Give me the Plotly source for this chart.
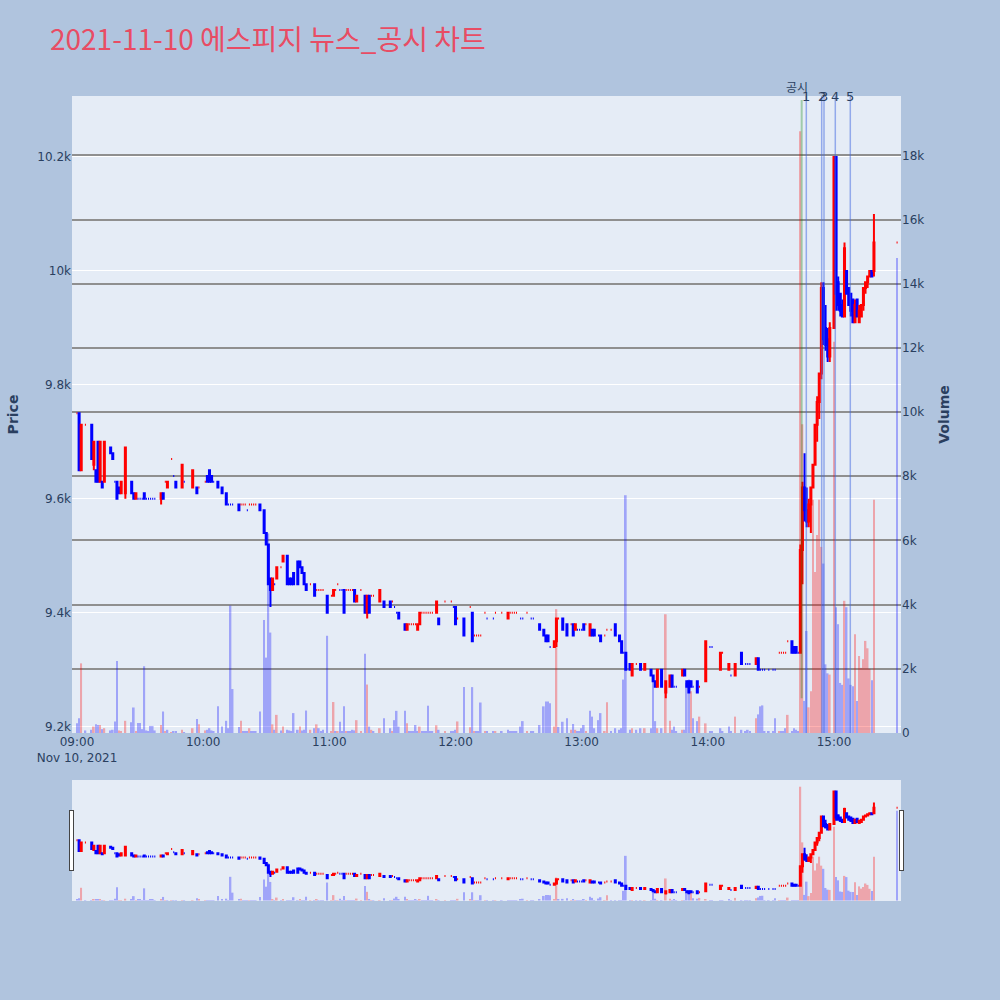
import pandas as pd
import plotly.graph_objects as go

trade_date = "2021-11-10"

times = [
    "09:00","09:01","09:02","09:04","09:07","09:08","09:09","09:10","09:11","09:12",
    "09:13","09:16","09:17","09:18","09:19","09:20","09:21","09:23","09:26","09:27",
    "09:28","09:29","09:30","09:31","09:32","09:33","09:34","09:35","09:36","09:37",
    "09:40","09:41","09:42","09:43","09:45","09:46","09:47","09:50","09:51","09:55",
    "09:57","09:58","10:01","10:02","10:03","10:04","10:05","10:07","10:09","10:11",
    "10:12","10:13","10:14","10:17","10:18","10:19","10:20","10:21","10:22","10:23",
    "10:24","10:25","10:27","10:29","10:30","10:31","10:32","10:33","10:34","10:35",
    "10:37","10:38","10:40","10:41","10:42","10:43","10:45","10:46","10:47","10:48",
    "10:49","10:51","10:53","10:54","10:55","10:56","10:57","10:59","11:01","11:02",
    "11:03","11:04","11:05","11:06","11:07","11:08","11:09","11:10","11:11","11:12",
    "11:13","11:15","11:17","11:18","11:19","11:20","11:21","11:24","11:26","11:29",
    "11:30","11:31","11:32","11:33","11:36","11:37","11:38","11:39","11:40","11:41",
    "11:42","11:43","11:44","11:45","11:46","11:47","11:48","11:49","11:51","11:52",
    "11:55","11:58","11:59","12:00","12:01","12:04","12:07","12:08","12:09","12:10",
    "12:11","12:12","12:14","12:15","12:18","12:19","12:22","12:25","12:26","12:27",
    "12:28","12:29","12:31","12:32","12:34","12:36","12:37","12:40","12:42","12:43",
    "12:44","12:45","12:47","12:48","12:49","12:51","12:53","12:55","12:56","12:57",
    "12:58","12:59","13:00","13:01","13:02","13:04","13:05","13:06","13:08","13:09",
    "13:11","13:12","13:14","13:16","13:18","13:19","13:20","13:21","13:23","13:24",
    "13:26","13:28","13:30","13:33","13:34","13:35","13:36","13:38","13:40","13:42",
    "13:43","13:44","13:45","13:48","13:49","13:50","13:51","13:52","13:53","13:55",
    "13:56","13:59","14:01","14:02","14:06","14:07","14:10","14:11","14:13","14:16",
    "14:18","14:19","14:20","14:23","14:24","14:25","14:26","14:27","14:29","14:31",
    "14:32","14:34","14:35","14:36","14:37","14:38","14:40","14:41","14:42","14:43",
    "14:44","14:45","14:46","14:47","14:48","14:49","14:50","14:51","14:52","14:53",
    "14:54","14:55","14:56","14:57","14:58","15:00","15:01","15:02","15:03","15:04",
    "15:05","15:06","15:07","15:08","15:09","15:10","15:11","15:12","15:13","15:14",
    "15:15","15:16","15:17","15:18","15:19","15:30",
]

opens = [
    9750,9750,9650,9730,9730,9660,9650,9700,9630,9630,
    9630,9690,9680,9630,9630,9620,9610,9610,9630,9610,
    9600,9600,9600,9600,9610,9600,9600,9600,9600,9600,
    9600,9610,9630,9620,9670,9640,9630,9620,9630,9620,
    9620,9620,9630,9640,9650,9640,9630,9630,9620,9610,
    9590,9590,9590,9590,9590,9590,9590,9580,9590,9590,
    9590,9590,9590,9580,9540,9520,9460,9440,9450,9460,
    9480,9490,9500,9460,9460,9470,9490,9490,9480,9470,
    9450,9450,9450,9440,9440,9440,9440,9430,9430,9430,
    9440,9450,9440,9440,9440,9440,9440,9440,9440,9440,
    9420,9440,9430,9400,9430,9430,9430,9420,9420,9420,
    9420,9410,9400,9400,9380,9370,9380,9380,9380,9380,
    9370,9380,9400,9400,9400,9400,9400,9400,9400,9390,
    9420,9420,9410,9410,9390,9390,9410,9400,9360,9360,
    9360,9360,9400,9390,9390,9400,9400,9390,9400,9400,
    9400,9400,9390,9390,9400,9390,9390,9380,9370,9360,
    9360,9340,9340,9350,9390,9390,9380,9380,9380,9370,
    9370,9370,9370,9380,9380,9360,9370,9370,9360,9360,
    9360,9370,9370,9380,9360,9350,9330,9330,9310,9290,
    9310,9310,9300,9300,9290,9280,9270,9300,9260,9270,
    9290,9270,9270,9290,9300,9280,9280,9280,9270,9280,
    9270,9280,9340,9340,9300,9330,9300,9290,9290,9330,
    9310,9310,9310,9310,9320,9300,9300,9300,9300,9300,
    9300,9330,9330,9330,9330,9350,9350,9340,9340,9330,
    9330,9510,9620,9580,9560,9590,9620,9660,9730,9770,
    9820,9970,9900,9880,9850,9900,10200,9980,9960,9940,
    9920,10000,9970,9960,9950,9910,9950,9910,9920,9940,
    9970,9980,9990,10000,10000,10050,
]

highs = [
    9750,9750,9730,9730,9730,9700,9650,9700,9700,9630,
    9700,9690,9680,9630,9630,9620,9630,9690,9630,9610,
    9610,9600,9600,9600,9610,9600,9600,9600,9600,9600,
    9610,9610,9630,9630,9670,9640,9630,9660,9630,9650,
    9620,9620,9630,9640,9650,9640,9630,9630,9620,9610,
    9590,9590,9590,9590,9590,9590,9590,9580,9590,9590,
    9590,9590,9590,9580,9540,9520,9460,9460,9450,9480,
    9480,9500,9500,9460,9460,9470,9490,9490,9480,9470,
    9450,9450,9450,9440,9440,9440,9440,9430,9430,9440,
    9440,9450,9440,9440,9440,9440,9440,9440,9440,9440,
    9430,9440,9430,9430,9430,9430,9430,9440,9420,9420,
    9420,9410,9400,9400,9380,9380,9380,9380,9380,9380,
    9380,9400,9400,9400,9400,9400,9400,9400,9420,9390,
    9420,9420,9410,9410,9390,9390,9410,9400,9360,9360,
    9360,9360,9400,9390,9390,9400,9400,9400,9400,9400,
    9400,9400,9390,9390,9400,9390,9390,9380,9370,9360,
    9360,9340,9350,9390,9390,9390,9380,9380,9380,9380,
    9370,9370,9370,9380,9380,9380,9370,9370,9360,9360,
    9360,9370,9370,9380,9360,9350,9330,9330,9310,9310,
    9310,9310,9310,9300,9290,9280,9300,9300,9280,9290,
    9290,9270,9270,9300,9300,9280,9280,9280,9270,9280,
    9270,9350,9340,9340,9330,9330,9310,9290,9310,9330,
    9310,9310,9310,9320,9320,9300,9300,9300,9300,9300,
    9300,9330,9330,9330,9330,9350,9350,9340,9340,9330,
    9520,9630,9680,9620,9600,9620,9660,9730,9780,9820,
    9980,9980,9940,9900,9910,10200,10200,9990,9960,9950,
    10050,10000,9970,9960,9950,9950,9950,9940,9940,9970,
    9980,9990,10000,10000,10100,10050,
]

lows = [
    9750,9650,9650,9730,9670,9650,9630,9630,9630,9620,
    9630,9680,9670,9630,9600,9610,9610,9600,9610,9600,
    9600,9600,9600,9600,9600,9600,9600,9600,9600,9600,
    9590,9600,9630,9620,9670,9640,9620,9620,9630,9620,
    9610,9620,9630,9630,9630,9630,9630,9620,9610,9590,
    9590,9590,9590,9580,9590,9590,9590,9580,9590,9590,
    9590,9590,9580,9540,9520,9450,9410,9440,9450,9460,
    9480,9490,9450,9450,9450,9450,9450,9480,9470,9450,
    9440,9450,9430,9440,9440,9440,9440,9400,9430,9430,
    9440,9450,9440,9440,9400,9440,9440,9440,9440,9420,
    9420,9440,9400,9390,9400,9430,9430,9420,9410,9410,
    9420,9410,9400,9390,9370,9370,9380,9380,9380,9380,
    9370,9380,9400,9400,9400,9400,9400,9400,9400,9380,
    9420,9420,9410,9380,9390,9360,9410,9350,9360,9360,
    9360,9360,9400,9390,9390,9400,9400,9390,9400,9400,
    9400,9400,9390,9390,9400,9390,9390,9370,9360,9350,
    9350,9340,9340,9340,9390,9370,9360,9380,9360,9370,
    9370,9370,9370,9370,9380,9360,9360,9360,9360,9350,
    9360,9370,9370,9360,9350,9330,9330,9300,9300,9290,
    9310,9300,9300,9290,9280,9270,9270,9270,9250,9270,
    9270,9270,9270,9290,9290,9270,9260,9270,9270,9260,
    9270,9280,9340,9340,9300,9330,9300,9290,9290,9310,
    9310,9310,9310,9310,9300,9300,9300,9300,9300,9300,
    9300,9330,9330,9330,9330,9350,9330,9330,9330,9330,
    9330,9450,9560,9550,9550,9540,9620,9660,9700,9740,
    9810,9870,9860,9840,9840,9900,9930,9930,9920,9920,
    9920,9960,9940,9920,9910,9910,9920,9910,9920,9930,
    9960,9970,9990,9990,9990,10050,
]

closes = [
    9750,9650,9730,9730,9670,9700,9630,9630,9700,9620,
    9700,9680,9670,9630,9600,9610,9630,9690,9610,9600,
    9610,9600,9600,9600,9600,9600,9600,9600,9600,9600,
    9610,9600,9630,9630,9670,9640,9620,9660,9630,9650,
    9610,9620,9630,9630,9630,9630,9630,9620,9610,9590,
    9590,9590,9590,9580,9590,9590,9590,9580,9590,9590,
    9590,9590,9580,9540,9520,9450,9440,9460,9450,9480,
    9480,9500,9450,9450,9450,9450,9450,9480,9470,9450,
    9440,9450,9430,9440,9440,9440,9440,9400,9430,9440,
    9440,9450,9440,9440,9400,9440,9440,9440,9440,9420,
    9430,9440,9400,9430,9400,9430,9430,9440,9410,9410,
    9420,9410,9400,9390,9370,9380,9380,9380,9380,9380,
    9380,9400,9400,9400,9400,9400,9400,9400,9420,9380,
    9420,9420,9410,9380,9390,9360,9410,9350,9360,9360,
    9360,9360,9400,9390,9390,9400,9400,9400,9400,9400,
    9400,9400,9390,9390,9400,9390,9390,9370,9360,9350,
    9350,9340,9350,9390,9390,9370,9360,9380,9360,9380,
    9370,9370,9370,9370,9380,9380,9360,9360,9360,9350,
    9360,9370,9370,9360,9350,9330,9330,9300,9300,9310,
    9310,9300,9310,9290,9280,9270,9300,9270,9280,9290,
    9270,9270,9270,9300,9290,9270,9260,9270,9270,9260,
    9270,9350,9340,9340,9330,9330,9310,9290,9310,9310,
    9310,9310,9310,9320,9300,9300,9300,9300,9300,9300,
    9300,9330,9330,9330,9330,9350,9330,9330,9330,9330,
    9510,9620,9580,9560,9590,9620,9660,9730,9770,9820,
    9970,9880,9870,9850,9900,10200,9960,9940,9930,9920,
    10040,9960,9940,9930,9910,9940,9920,9930,9940,9970,
    9980,9990,10000,9990,10050,10050,
]

volumes = [
    300,460,2170,80,100,200,270,250,250,120,
    150,80,100,355,2240,80,60,380,335,795,
    60,310,310,120,2080,80,60,220,220,80,
    250,670,60,100,30,40,60,100,30,150,
    440,270,80,100,150,80,60,830,200,380,
    150,3970,1370,190,380,60,60,50,150,60,
    60,60,670,3520,2350,6220,3130,270,100,565,
    80,200,100,80,60,620,100,200,80,100,
    700,100,150,270,150,60,100,3030,60,965,
    60,40,350,60,830,60,40,60,100,80,
    400,60,2470,1510,200,100,60,150,460,150,
    60,400,690,200,690,300,60,60,60,250,
    60,200,60,60,60,850,60,60,240,100,
    60,60,60,100,360,1430,180,1430,60,60,
    60,950,60,60,60,60,60,100,60,60,
    60,60,200,370,60,60,60,250,830,985,
    985,930,200,3860,190,350,460,100,280,100,
    60,60,150,250,60,690,510,150,400,620,
    60,960,60,150,100,150,1665,7410,100,150,
    100,150,150,150,1720,370,150,150,3700,380,
    100,200,60,100,100,1560,1665,1300,460,370,
    510,300,60,60,150,60,200,60,510,100,
    60,100,60,460,580,830,860,60,60,60,
    460,60,60,60,150,565,60,150,100,60,
    18750,9620,1000,3180,800,1300,7270,5020,6170,7270,
    5800,5280,2140,1860,1820,12190,3920,3390,1560,1500,
    4120,3920,1700,1500,1460,3080,1000,2400,2030,2300,
    2870,2640,2000,1640,7270,14800,
]

disclosure_time = "14:44:38"
disclosure_label = "공시"
news_times = ["14:46:50", "14:54:09", "14:55:15", "15:00:37", "15:07:45"]
news_labels = ["1", "2", "3", "4", "5"]
disclosure_span = [9250, 10300]

title_text = "2021-11-10 에스피지 뉴스_공시 차트"

n = len(times)
assert all(len(a) == n for a in (opens, highs, lows, closes, volumes))

x = pd.to_datetime([f"{trade_date} {t}" for t in times])

# volume colour: up vs previous close -> red, otherwise blue
vol_colors = []
prev = None
for o, c in zip(opens, closes):
    ref = o if prev is None else prev
    vol_colors.append("red" if c > ref else "blue")
    prev = c

fig = go.Figure()
fig.add_trace(go.Candlestick(
    x=x, open=opens, high=highs, low=lows, close=closes,
    increasing=dict(line=dict(color="red"), fillcolor="red"),
    decreasing=dict(line=dict(color="blue"), fillcolor="blue"),
    name="Price", yaxis="y", showlegend=False,
))
fig.add_trace(go.Bar(
    x=x, y=volumes, marker=dict(color=vol_colors, line=dict(width=0)),
    opacity=0.3, yaxis="y2", name="Volume", showlegend=False,
))

d_x = f"{trade_date} {disclosure_time}"
fig.add_shape(type="line", xref="x", yref="y", x0=d_x, x1=d_x,
              y0=disclosure_span[0], y1=disclosure_span[1],
              line=dict(color="green", width=2), opacity=0.3)
fig.add_annotation(x=d_x, xref="x", y=1, yref="paper", text=disclosure_label,
                   showarrow=False, xanchor="center", yanchor="bottom",
                   xshift=-5, yshift=-1,
                   font=dict(size=12, color="#2a3f5f"))
for t, lab in zip(news_times, news_labels):
    nx = f"{trade_date} {t}"
    fig.add_shape(type="line", xref="x", yref="paper", x0=nx, x1=nx, y0=0, y1=1,
                  line=dict(color="royalblue", width=1.5), opacity=0.5)
    fig.add_annotation(x=nx, xref="x", y=1, yref="paper", text=lab,
                       showarrow=False, xanchor="center", yanchor="middle",
                       font=dict(size=13, color="#2a3f5f"))

x_range = [f"{trade_date} 08:57:37", f"{trade_date} 15:31:52"]

fig.update_layout(
    width=1000, height=1000,
    template="plotly",
    font=dict(family="DejaVu Sans, Noto Sans CJK KR, sans-serif", size=12),
    title=dict(text=title_text, x=0.05, xanchor="left", y=0.96, yanchor="middle",
               yref="container",
               font=dict(family="Noto Sans CJK KR, DejaVu Sans", size=28, color="#E84C64")),
    paper_bgcolor="lightsteelblue",
    plot_bgcolor="#E5ECF6",
    margin=dict(l=72, r=99, t=96, b=100),
    showlegend=False,
    bargap=0.2,
    xaxis=dict(type="date", range=x_range, showgrid=False,
               rangeslider=dict(visible=True, range=x_range, bgcolor="#E5ECF6")),
    yaxis=dict(title=dict(text="<b>Price</b>"), range=[9189, 10307], side="left",
               gridcolor="white"),
    yaxis2=dict(title=dict(text="<b>Volume</b>"), range=[0, 19850], side="right",
                overlaying="y", showgrid=True, gridcolor="#8f8f8f", gridwidth=1.5,
                zeroline=False),
)

fig.write_html("out.html", config={"displayModeBar": False},
               post_script="document.body.style.margin='0';document.body.style.padding='0';")
